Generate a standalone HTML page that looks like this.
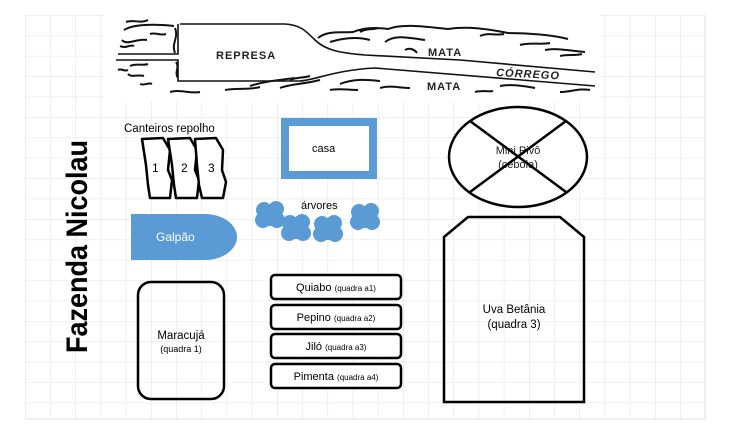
<!DOCTYPE html>
<html><head><meta charset="utf-8"><style>
html,body{margin:0;padding:0;background:#fff;}
svg{display:block;font-family:"Liberation Sans","DejaVu Sans",sans-serif;}
</style></head><body>
<svg width="730" height="432" viewBox="0 0 730 432" xmlns="http://www.w3.org/2000/svg">
<defs>
<pattern id="g" x="25" y="15" width="25.2" height="20.4" patternUnits="userSpaceOnUse">
<path d="M0 0H25.2M0 0V20.4" stroke="#e6e6e6" stroke-width="1.3" fill="none"/>
</pattern>
<g id="tree"><circle r="11"/><circle cx="-6" cy="-5" r="8"/><circle cx="6" cy="-6" r="8"/><circle cx="-7" cy="5" r="8"/><circle cx="7" cy="5" r="8"/></g>
</defs>
<rect x="25" y="15" width="680" height="404" fill="url(#g)"/>
<path d="M705 15V419H25" stroke="#e6e6e6" stroke-width="1.3" fill="none"/>

<rect x="104" y="14" width="496" height="88" fill="#fff"/>
<g fill="none" stroke="#111" stroke-width="1.6">
<path d="M180 24H285C300 25 305 30 315 40C325 50 340 53 365 55L460 60L595 72"/>
<path d="M118 54H178V24"/>
<path d="M116 60H178V81H300C315 80 335 70 375 68L595 86"/>
</g>
<g fill="none" stroke="#111" stroke-width="2">
<path d="M124 30c10-6 30-6 50-4M122 40c5 6 15-2 25 0M130 66c6-3 12 0 18-2M128 74c4 4 10 0 16 2M175 28c4 10-4 15 0 25M120 46c6 3 10-2 14 0M126 22c8-3 14 2 22-2M150 34c6-2 10 2 16 0M176 62c4 6-2 10 2 16M140 84c5 2 8-2 12 0M118 70c4-2 6 2 10 0"/>
<path d="M318 38c10-8 25-5 35-6c10-4 20-5 35-3c15-6 40-2 60 0c20-3 40 0 60 4c20 0 45 2 60 6M330 42c10-3 25-6 40-2M385 42c10-8 25-4 40-2M520 45c10-3 20 0 30-2M545 50c10-2 20 0 40 2M405 50c5-3 10 0 12 3M480 36c8-4 16 0 24-2M360 32c6-4 12-2 18-4M560 56c8-2 14 0 22-2"/>
<path d="M170 92c10-3 20 2 30 0M225 90c10-2 25 0 35-3M280 88c10-4 25-4 40-8M340 84c15-6 30-4 40-3M380 88c10-3 20 0 30 0M500 86c10-2 25 0 35 2M560 92c10 0 20-4 30-2M250 86c15-5 30-6 45-8M330 90c8-2 18 0 28 0M290 80c6-3 14-2 20-4M475 92c6-2 12 0 18-1"/>
</g>
<g font-size="11" fill="#222" font-weight="bold" letter-spacing="1">
<text x="216" y="59">REPRESA</text>
<text x="428" y="56">MATA</text>
<text x="427" y="90">MATA</text>
<text x="496" y="76" font-style="italic" transform="rotate(3 496 76)">CÓRREGO</text>
</g>

<text transform="translate(87 353) rotate(-90)" font-size="30" font-weight="bold" fill="#000" textLength="213" lengthAdjust="spacingAndGlyphs">Fazenda Nicolau</text>

<text x="124" y="132" font-size="11.5" fill="#000">Canteiros repolho</text>
<g fill="#fff" stroke="#000" stroke-width="2.5" stroke-linejoin="round">
<path d="M142 139L163 138L170 150L168 170L172 180L170 198L150 198L148 185L146 165Z"/>
<path d="M168 139L190 138L197 150L195 170L199 180L197 198L176 198L174 185L172 165Z"/>
<path d="M195 139L216 138L223 150L222 170L226 182L223 198L202 198L199 185L197 165Z"/>
</g>
<g font-size="12" fill="#000"><text x="152" y="172">1</text><text x="181" y="172">2</text><text x="208" y="172">3</text></g>

<rect x="285" y="122" width="88" height="53" fill="#fff" stroke="#5b9bd5" stroke-width="8"/>
<text x="312" y="152" font-size="11" fill="#000">casa</text>

<path d="M131 214H205A32 23 0 0 1 205 260H131Z" fill="#5b9bd5"/>
<text x="156" y="241" font-size="12" fill="#fff">Galpão</text>

<text x="301" y="209" font-size="11" fill="#000">árvores</text>
<g fill="#5b9bd5">
<use href="#tree" x="270" y="215"/>
<use href="#tree" x="296" y="228"/>
<use href="#tree" x="328" y="229"/>
<use href="#tree" x="365" y="217"/>
</g>

<ellipse cx="518" cy="157" rx="69" ry="50" fill="#fff" stroke="#000" stroke-width="2.5"/>
<text x="518" y="154" font-size="11" fill="#222" text-anchor="middle">Mini Pivô</text>
<text x="518" y="168" font-size="11" fill="#222" text-anchor="middle">(cebola)</text>
<path d="M470 121L566 192M566 121L470 192" stroke="#000" stroke-width="2.5"/>

<path d="M468 217H560L584 237V402H444V237Z" fill="none" stroke="#000" stroke-width="2.5"/>
<text x="514" y="313" font-size="11.5" fill="#000" text-anchor="middle">Uva Betânia</text>
<text x="514" y="328" font-size="11.5" fill="#000" text-anchor="middle">(quadra 3)</text>

<rect x="138" y="282" width="86" height="117" rx="13" fill="none" stroke="#000" stroke-width="2.5"/>
<text x="181" y="339" font-size="11.5" fill="#000" text-anchor="middle">Maracujá</text>
<text x="181" y="352" font-size="9" fill="#000" text-anchor="middle">(quadra 1)</text>

<g fill="#fff" stroke="#000" stroke-width="2.5">
<rect x="271" y="275" width="130" height="24" rx="4"/>
<rect x="271" y="305" width="130" height="24" rx="4"/>
<rect x="271" y="334" width="130" height="24" rx="4"/>
<rect x="271" y="364" width="130" height="24" rx="4"/>
</g>
<g fill="#000" text-anchor="middle">
<text x="336" y="291" font-size="11">Quiabo <tspan font-size="8">(quadra a1)</tspan></text>
<text x="336" y="321" font-size="11">Pepino <tspan font-size="8">(quadra a2)</tspan></text>
<text x="336" y="350" font-size="11">Jiló <tspan font-size="8">(quadra a3)</tspan></text>
<text x="336" y="380" font-size="11">Pimenta <tspan font-size="8">(quadra a4)</tspan></text>
</g>
</svg>
</body></html>
